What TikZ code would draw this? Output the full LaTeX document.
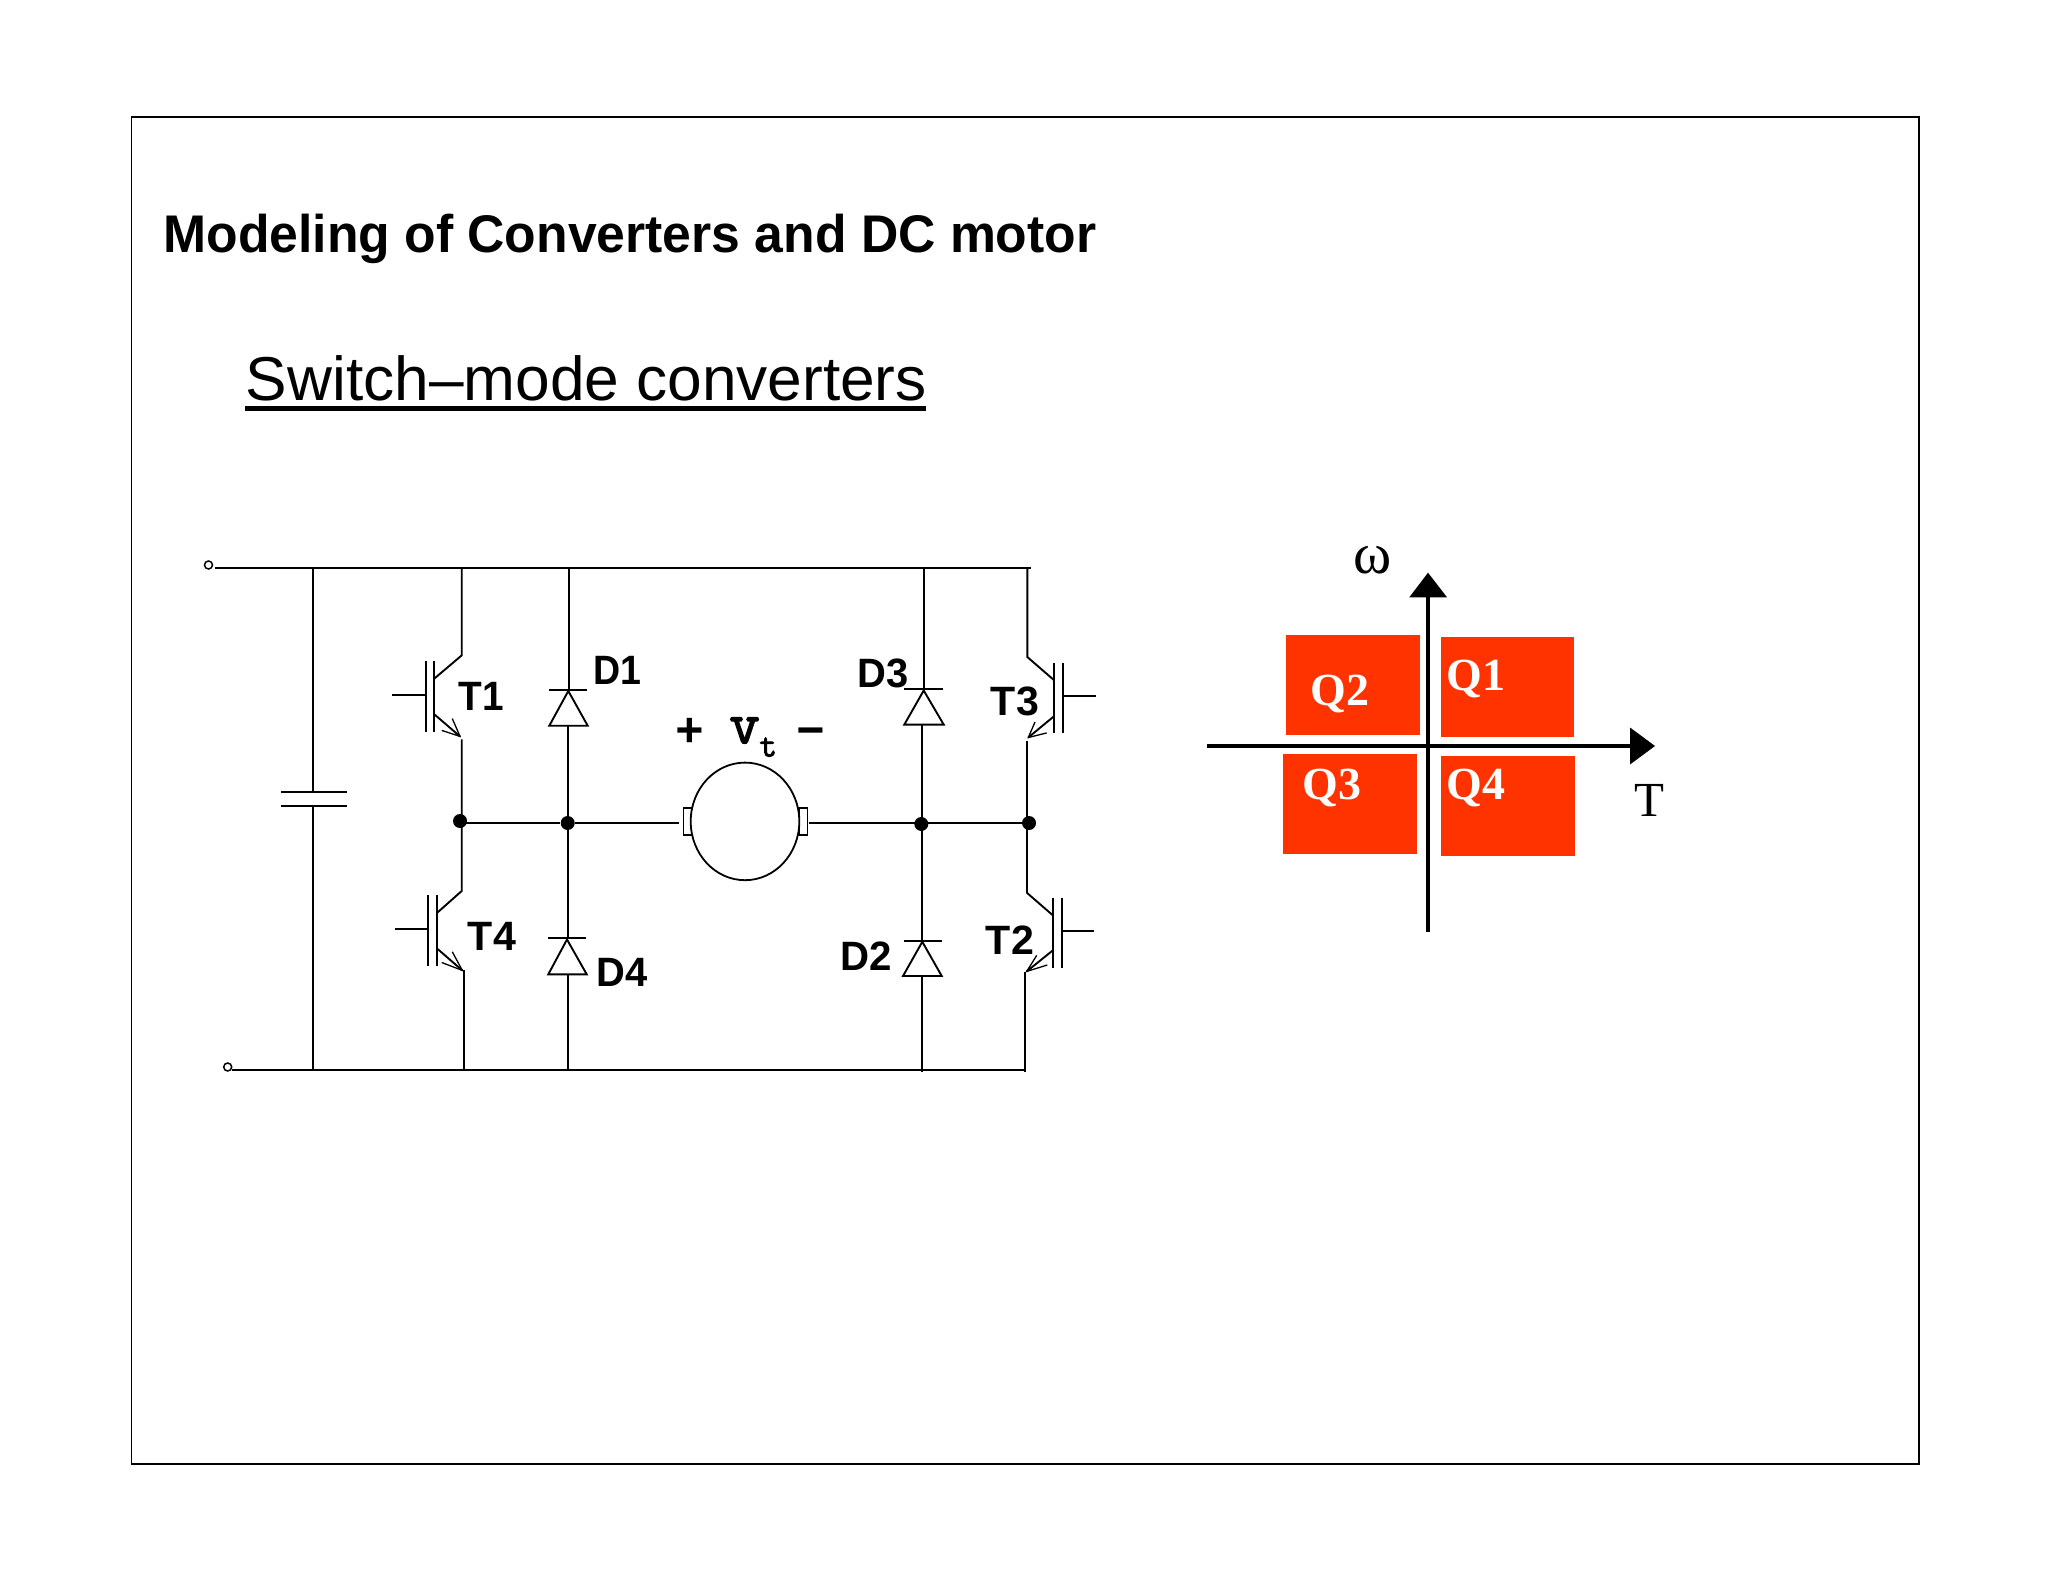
\documentclass[tikz,border=0pt]{standalone}
\usepackage{fontspec}
\usepackage{graphicx}
\usetikzlibrary{shapes.geometric}
\setmainfont{Liberation Sans}
\newfontfamily\serifF{Liberation Serif}
\newfontfamily\monoF{Liberation Mono}
\newfontfamily\heavyF[AutoFakeBold=2.5]{Latin Modern Mono}
\newcommand{\fitw}[2]{\resizebox{#1}{\height}{#2}}
\definecolor{quad}{HTML}{FF3300}
\tikzset{
  wire/.style={line width=0.95pt,line join=miter},
  bar/.style={line width=0.95pt},
  dot/.style={circle,fill=black,inner sep=0pt,minimum size=7pt},
  term/.style={circle,draw=black,fill=white,line width=0.75pt,inner sep=0pt,minimum size=4pt},
  lab/.style={inner sep=0pt,anchor=base west,font=\fontsize{20.5pt}{24pt}\selectfont\bfseries},
  qlab/.style={inner sep=0pt,anchor=base west,text=white,font=\fontsize{23pt}{26pt}\serifF\bfseries},
  axis/.style={line width=1.75pt,black},
  head/.style={fill=black,draw=none},
  quadr/.style={fill=quad,draw=none,inner sep=0pt,anchor=north west}
}
\begin{document}
\begin{tikzpicture}[x=0.5pt,y=-0.5pt]
\useasboundingbox (0,0) rectangle (2048,1582);
\fill[white] (0,0) rectangle (2048,1582);
% frame
\node[draw=black,line width=0.9pt,inner sep=0pt,outer sep=0pt,anchor=north west,minimum width=893.75pt,minimum height=673.3pt] (frame) at (131.5,117.3) {};
% titles
\node[inner sep=0pt,anchor=base west,font=\fontsize{26.5pt}{30pt}\selectfont\bfseries] (title) at (163,252.7) {\fitw{466.5pt}{Modeling of Converters and DC motor}};
\node[inner sep=0pt,anchor=base west,font=\fontsize{31pt}{34pt}\selectfont] (sub) at (245.5,401) {\fitw{340.5pt}{Switch–mode converters}};
\coordinate (ulA) at (245,408.5); \coordinate (ulB) at (925.5,408.5);
\draw[line width=2.5pt] (ulA) -- (ulB);

% rails
\node[term] (tA) at (208.5,565) {};
\node[term] (tB) at (227.7,1067) {};
\coordinate (railAe) at (1030.7,568);
\coordinate (railAs) at (215,568);
\coordinate (railBs) at (231.7,1070);
\coordinate (railBe) at (1025.5,1070);
\draw[wire] (railAs) -- (railAe);
\draw[wire] (railBs) -- (railBe);

% capacitor
\coordinate (c1t) at (312.7,568); \coordinate (c1b) at (312.7,792);
\coordinate (c2t) at (312.7,806); \coordinate (c2b) at (312.7,1070);
\draw[wire] (c1t) -- (c1b);
\draw[wire] (c2t) -- (c2b);
\coordinate (p1a) at (281,792); \coordinate (p1b) at (346.7,792);
\coordinate (p2a) at (281,806); \coordinate (p2b) at (346.7,806);
\draw[bar] (p1a) -- (p1b);
\draw[bar] (p2a) -- (p2b);

% junction dots
\node[dot] (j1) at (460,821) {};
\node[dot] (j2) at (567.7,823) {};
\node[dot] (j3) at (921.3,824) {};
\node[dot] (j4) at (1029,823) {};
\coordinate (j1e) at (465,823);
\draw[wire] (j1e) -- (j2);
\coordinate (mL) at (679.3,823);
\coordinate (mR) at (809,823);
\draw[wire] (j2) -- (mL);
\draw[wire] (mR) -- (j4);

% motor
\node[draw=black,line width=0.75pt,fill=white,rectangle,inner sep=0pt,minimum width=4.2pt,minimum height=13.5pt] (brL) at (687.5,821.5) {};
\node[draw=black,line width=0.75pt,fill=white,rectangle,inner sep=0pt,minimum width=4.2pt,minimum height=13.5pt] (brR) at (803.3,821.5) {};
\node[ellipse,draw=black,line width=0.9pt,fill=white,inner sep=0pt,minimum width=54.3pt,minimum height=58.8pt] (motor) at (745,821.4) {};

% T1
\coordinate (T1c) at (461.7,655.4); \coordinate (T1d) at (434.3,678.6);
\coordinate (T1e) at (434.3,714.3); \coordinate (T1t) at (460,736.4);
\coordinate (T1v) at (461.7,739.3);
\draw[wire] (461.7,568) -- (T1c) -- (T1d);
\draw[bar] (434.3,661.4) -- (434.3,731.8);
\draw[bar] (425.7,661.4) -- (425.7,731.8);
\draw[bar] (392.3,694.6) -- (425.7,694.6);
\draw[wire] (T1e) -- (T1t);
\draw[line width=0.65pt] (441.7,730.4) -- (T1t) -- (452.3,718.6);
% T1-T4 leg
\coordinate (T4d) at (436.7,913.2);
\draw[wire] (T1v) -- (461.7,891) -- (T4d);
% T4
\coordinate (T4e) at (436.7,948.2); \coordinate (T4t) at (462.3,970.4);
\draw[bar] (436.7,895.4) -- (436.7,966);
\draw[bar] (428,895.4) -- (428,966);
\draw[bar] (395,928.6) -- (428,928.6);
\draw[wire] (T4e) -- (T4t);
\draw[line width=0.65pt] (441.7,962.5) -- (T4t) -- (452.3,951.8);
\draw[wire] (464,970.4) -- (464,1070);

% D1
\draw[wire] (568.7,568) -- (568.7,690);
\draw[bar] (549,690) -- (586.7,690);
\draw[bar] (568.3,691) -- (549.3,725.7) -- (587.7,725.7) -- cycle;
\draw[wire] (567.7,725.7) -- (567.7,938.2);
% D4
\draw[bar] (548.3,938.2) -- (585.7,938.2);
\draw[bar] (567,939.5) -- (548.3,974.3) -- (586.7,974.3) -- cycle;
\draw[wire] (567.7,974.3) -- (567.7,1070);

% D3
\draw[wire] (923.7,568) -- (923.7,689.3);
\draw[bar] (904.3,689.3) -- (942.7,689.3);
\draw[bar] (923.7,690.5) -- (904.3,724.6) -- (943.7,724.6) -- cycle;
\draw[wire] (921.7,724.6) -- (921.7,940.7);
% D2
\draw[bar] (903.7,940.7) -- (941.7,940.7);
\draw[bar] (922.3,941.8) -- (903,976) -- (941.7,976) -- cycle;
\draw[wire] (921.7,976) -- (921.7,1071.5);

% T3
\coordinate (T3c) at (1027.3,657); \coordinate (T3d) at (1054.3,680.4);
\coordinate (T3e) at (1054.3,716); \coordinate (T3t) at (1028.3,737.5);
\draw[wire] (1027.3,568) -- (T3c) -- (T3d);
\draw[bar] (1054.3,662.5) -- (1054.3,733.2);
\draw[bar] (1063.3,662.5) -- (1063.3,733.2);
\draw[bar] (1063.3,696) -- (1096,696);
\draw[wire] (T3e) -- (T3t);
\draw[line width=0.65pt] (1035,722) -- (T3t) -- (1046.7,732.9);
\draw[wire] (1027,741) -- (1027,892.9) -- (1053.3,915.7);
% T2
\coordinate (T2e) at (1053.3,950); \coordinate (T2t) at (1026.7,971.4);
\draw[bar] (1053.3,897.5) -- (1053.3,967.5);
\draw[bar] (1061.7,897.5) -- (1061.7,967.5);
\draw[bar] (1061.7,930.7) -- (1094.3,930.7);
\draw[wire] (T2e) -- (T2t);
\draw[line width=0.65pt] (1036.7,955.4) -- (T2t) -- (1047.3,965);
\draw[wire] (1025.3,972) -- (1025.3,1071.5);

% labels
\node[lab] (lT1) at (458,710.7) {\fitw{22.6pt}{T1}};
\node[lab] (lD1) at (593,684) {\fitw{24pt}{D1}};
\node[lab] (lT4) at (467.5,950.7) {\fitw{24pt}{T4}};
\node[lab] (lD4) at (596,986.4) {\fitw{25.5pt}{D4}};
\node[lab] (lD3) at (857,687.1) {\fitw{25.5pt}{D3}};
\node[lab] (lT3) at (990.5,715) {\fitw{24pt}{T3}};
\node[lab] (lD2) at (839.7,970.4) {\fitw{25.7pt}{D2}};
\node[lab] (lT2) at (985.5,954.3) {\fitw{24pt}{T2}};
\node[inner sep=0pt,anchor=base west,font=\fontsize{24pt}{28pt}\monoF\bfseries] (lp) at (675,746) {+};
\node[inner sep=0pt,anchor=base west,font=\fontsize{29.5pt}{30pt}\heavyF\bfseries] (lv) at (729,743) {v};
\node[inner sep=0pt,anchor=base west,font=\fontsize{17pt}{18pt}\heavyF\bfseries] (lt) at (759,756.5) {t};
\node[inner sep=0pt,anchor=base west,font=\fontsize{24pt}{28pt}\monoF\bfseries] (lm) at (796,746) {−};

% quadrants
\node[quadr,minimum width=66.65pt,minimum height=50.15pt] (r2) at (1286,634.7) {};
\node[quadr,minimum width=66.65pt,minimum height=50.15pt] (r1) at (1440.7,636.7) {};
\node[quadr,minimum width=67pt,minimum height=50pt] (r3) at (1282.7,753.7) {};
\node[quadr,minimum width=66.85pt,minimum height=50pt] (r4) at (1441,756) {};
\node[qlab] (q2) at (1310,705.7) {Q2};
\node[qlab] (q1) at (1446.3,690.7) {Q1};
\node[qlab] (q3) at (1302.5,799.3) {Q3};
\node[qlab] (q4) at (1446.3,799.3) {Q4};
% axes
\coordinate (xS) at (1207.3,746); \coordinate (xE) at (1632,746);
\coordinate (yS) at (1428,932.3); \coordinate (yE) at (1428,595);
\draw[axis] (xS) -- (xE);
\draw[axis] (yS) -- (yE);
\fill[head] (1655,746) -- (1630,727.5) -- (1630,764.5) -- cycle;
\fill[head] (1428,572.7) -- (1409.3,597.3) -- (1447,597.3) -- cycle;
\node[inner sep=0pt,anchor=base west,font=\fontsize{29pt}{30pt}\serifF] (lw) at (1353,573.5) {ω};
\node[inner sep=0pt,anchor=base west,font=\fontsize{24.5pt}{28pt}\serifF] (lT) at (1634,816) {T};
\end{tikzpicture}
\end{document}
